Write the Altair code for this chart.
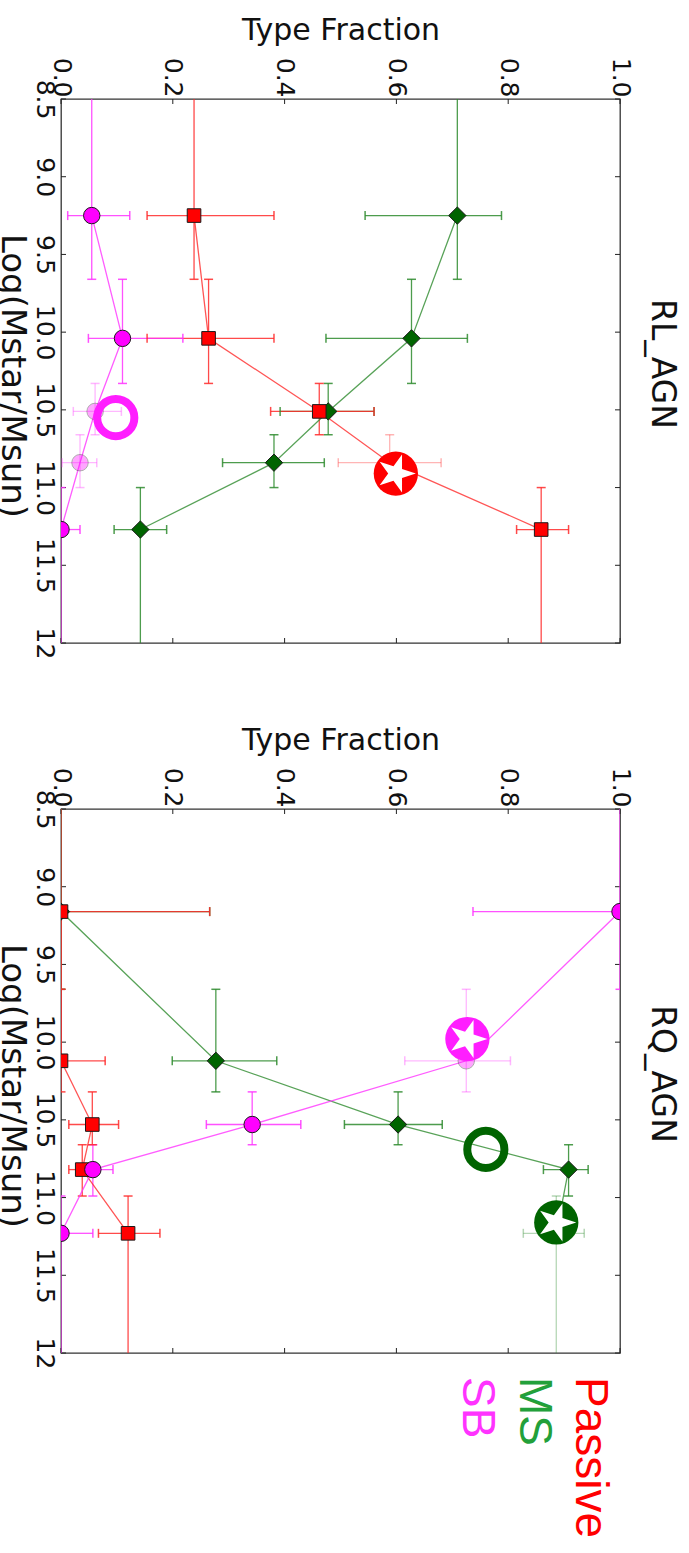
import altair as alt
import pandas as pd

# Axis tick positions
FRAC_TICKS = [0.0, 0.2, 0.4, 0.6, 0.8, 1.0]
MASS_TICKS = [8.5, 9.0, 9.5, 10.0, 10.5, 11.0, 11.5, 12.0]

SERIES = ["MS", "Passive", "SB"]          # drawing order, SB on top
LEGEND_LABELS = ["Passive", "MS", "SB"]

# ---------------- RL_AGN ----------------
# stellar-mass bins: centre and lower / upper bin edge
rl_mass = [9.25, 10.04, 10.51, 10.84, 11.27]
rl_mass_lo = [8.0, 9.66, 10.33, 10.66, 11.00]
rl_mass_hi = [9.66, 10.33, 10.66, 11.00, 13.0]

rl_passive = [0.238, 0.264, 0.462, 0.588, 0.859]
rl_passive_lo = [0.154, 0.154, 0.375, 0.496, 0.815]
rl_passive_hi = [0.381, 0.381, 0.560, 0.680, 0.908]

rl_ms = [0.709, 0.627, 0.478, 0.381, 0.142]
rl_ms_lo = [0.544, 0.474, 0.392, 0.289, 0.095]
rl_ms_hi = [0.788, 0.727, 0.560, 0.471, 0.189]

rl_sb = [0.055, 0.110, 0.061, 0.034, 0.0]
rl_sb_lo = [0.012, 0.049, 0.022, 0.002, 0.0]
rl_sb_hi = [0.123, 0.218, 0.108, 0.064, 0.034]

rl_ring_series = ["SB"]
rl_ring_frac = [0.098]
rl_ring_mass = [10.55]
rl_star_series = ["Passive"]
rl_star_frac = [0.599]
rl_star_mass = [10.91]

# ---------------- RQ_AGN ----------------
rq_mass = [9.16, 10.12, 10.53, 10.82, 11.23]
rq_mass_lo = [8.0, 9.66, 10.32, 10.66, 10.99]
rq_mass_hi = [9.66, 10.32, 10.66, 10.99, 13.0]

rq_passive = [0.0, 0.0, 0.056, 0.038, 0.120]
rq_passive_lo = [0.0, 0.0, 0.014, 0.014, 0.067]
rq_passive_hi = [0.266, 0.079, 0.103, 0.057, 0.177]

rq_ms = [0.0, 0.277, 0.603, 0.908, 0.886]
rq_ms_lo = [0.0, 0.199, 0.507, 0.863, 0.827]
rq_ms_hi = [0.266, 0.386, 0.682, 0.943, 0.936]

rq_sb = [1.0, 0.725, 0.342, 0.057, 0.0]
rq_sb_lo = [0.737, 0.615, 0.260, 0.030, 0.0]
rq_sb_hi = [1.0, 0.804, 0.429, 0.093, 0.057]

rq_ring_series = ["MS"]
rq_ring_frac = [0.760]
rq_ring_mass = [10.69]
rq_star_series = ["SB", "MS"]
rq_star_frac = [0.727, 0.886]
rq_star_mass = [9.98, 11.16]

# ---------------- styling ----------------
LINE_COLORS = {"MS": "#2e8b2e", "Passive": "#ff2a2a", "SB": "#ff33ff"}
FILL_COLORS = {"MS": "#006400", "Passive": "#ff0000", "SB": "#ff00ff"}
MARK_COLORS = {"MS": "#006400", "Passive": "#ff0000", "SB": "#ff1eff"}
LEGEND_COLORS = {"Passive": "#ff0000", "MS": "#22a03a", "SB": "#ff33ff"}
SHAPES = {"MS": "diamond", "Passive": "square", "SB": "circle"}
SIZES = {"MS": 300, "Passive": 185, "SB": 270}
# five-pointed star in the unit box, used for the highlighted sources
STAR_PATH = (
    "M0,-1L0.2245,-0.309L0.951,-0.309L0.363,0.118L0.588,0.809L0,0.382"
    "L-0.588,0.809L-0.363,0.118L-0.951,-0.309L-0.2245,-0.309Z"
)
# points drawn washed out (series, bin index)
FADED = {
    "RL_AGN": {("SB", 2), ("SB", 3), ("Passive", 3)},
    "RQ_AGN": {("SB", 1), ("MS", 4)},
}

FONT = "DejaVu Sans"
PLOT_W, PLOT_H = 559, 544
TICK_LEN = 5

panels = {
    "RL_AGN": dict(
        mass=rl_mass, mass_lo=rl_mass_lo, mass_hi=rl_mass_hi,
        MS=(rl_ms, rl_ms_lo, rl_ms_hi),
        Passive=(rl_passive, rl_passive_lo, rl_passive_hi),
        SB=(rl_sb, rl_sb_lo, rl_sb_hi),
        rings=(rl_ring_series, rl_ring_frac, rl_ring_mass),
        stars=(rl_star_series, rl_star_frac, rl_star_mass),
    ),
    "RQ_AGN": dict(
        mass=rq_mass, mass_lo=rq_mass_lo, mass_hi=rq_mass_hi,
        MS=(rq_ms, rq_ms_lo, rq_ms_hi),
        Passive=(rq_passive, rq_passive_lo, rq_passive_hi),
        SB=(rq_sb, rq_sb_lo, rq_sb_hi),
        rings=(rq_ring_series, rq_ring_frac, rq_ring_mass),
        stars=(rq_star_series, rq_star_frac, rq_star_mass),
    ),
}

x_scale = alt.Scale(domain=[0, 1], nice=False, zero=False)
y_scale = alt.Scale(domain=[8.5, 12], nice=False, zero=False, reverse=True)

x_axis = alt.Axis(
    orient="top", values=FRAC_TICKS, format=".1f", title="Type Fraction",
    labelAngle=90, labelAlign="right", labelBaseline="middle",
    labelFont=FONT, labelFontSize=25, labelColor="#111", labelPadding=2,
    ticks=False, domain=False, grid=False,
    titleFont=FONT, titleFontSize=30, titleFontWeight="normal",
    titleColor="#111", titlePadding=12,
)
y_axis = alt.Axis(
    orient="left", values=MASS_TICKS,
    labelExpr="datum.value == 12 ? '12' : format(datum.value, '.1f')",
    labelAngle=90, labelAlign="center", labelBaseline="top",
    labelFont=FONT, labelFontSize=25, labelColor="#111", labelPadding=5,
    ticks=False, domain=False, grid=False, title=None,
)

line_color = alt.Color(
    "series:N",
    scale=alt.Scale(domain=SERIES, range=[LINE_COLORS[s] for s in SERIES]),
    legend=None,
)
mark_color_scale = alt.Scale(domain=SERIES, range=[MARK_COLORS[s] for s in SERIES])


def panel(name, with_legend):
    p = panels[name]
    rows = []
    for s in SERIES:
        vals, lo, hi = p[s]
        for i, m in enumerate(p["mass"]):
            faded = (s, i) in FADED[name]
            rows.append(dict(
                series=s, mass=m, mlo=p["mass_lo"][i], mhi=p["mass_hi"][i],
                frac=vals[i], flo=lo[i], fhi=hi[i],
                alpha=0.35 if faded else 1.0,
                ealpha=0.35 if faded else 0.85,
            ))
    df = pd.DataFrame(rows)

    ring_s, ring_f, ring_m = p["rings"]
    rings = pd.DataFrame({"series": ring_s, "frac": ring_f, "mass": ring_m})
    star_s, star_f, star_m = p["stars"]
    stars = pd.DataFrame({"series": star_s, "frac": star_f, "mass": star_m})

    X = alt.X("frac:Q", scale=x_scale, axis=x_axis)
    Y = alt.Y("mass:Q", scale=y_scale, axis=y_axis)
    base = alt.Chart(df)
    ealpha = alt.Opacity("ealpha:Q", scale=None)

    # inward tick marks on all four sides of the frame
    fticks = alt.Chart(pd.DataFrame({"frac": FRAC_TICKS}))
    mticks = alt.Chart(pd.DataFrame({"mass": MASS_TICKS}))
    tick_top = fticks.mark_rule(color="#222", strokeWidth=1).encode(
        x=X, y=alt.value(0), y2=alt.value(TICK_LEN))
    tick_bottom = fticks.mark_rule(color="#222", strokeWidth=1).encode(
        x=X, y=alt.value(PLOT_H - TICK_LEN), y2=alt.value(PLOT_H))
    tick_left = mticks.mark_rule(color="#222", strokeWidth=1).encode(
        y=Y, x=alt.value(0), x2=alt.value(TICK_LEN))
    tick_right = mticks.mark_rule(color="#222", strokeWidth=1).encode(
        y=Y, x=alt.value(PLOT_W - TICK_LEN), x2=alt.value(PLOT_W))

    # bin-width (vertical) bars and their caps
    vbar = base.mark_rule(strokeWidth=1.3, clip=True).encode(
        x=X, y=alt.Y("mlo:Q", scale=y_scale, axis=y_axis), y2="mhi:Q",
        color=line_color, opacity=ealpha)
    vcap_lo = base.mark_point(shape="stroke", size=81, strokeWidth=1.5, clip=True).encode(
        x=X, y=alt.Y("mlo:Q", scale=y_scale, axis=y_axis),
        color=line_color, opacity=ealpha)
    vcap_hi = base.mark_point(shape="stroke", size=81, strokeWidth=1.5, clip=True).encode(
        x=X, y=alt.Y("mhi:Q", scale=y_scale, axis=y_axis),
        color=line_color, opacity=ealpha)
    # fraction error bars and caps
    hbar = base.mark_rule(strokeWidth=1.3, clip=True).encode(
        x=alt.X("flo:Q", scale=x_scale, axis=x_axis), x2="fhi:Q", y=Y,
        color=line_color, opacity=ealpha)
    hcap_lo = base.mark_point(shape="stroke", size=81, angle=90, strokeWidth=1.5, clip=True).encode(
        x=alt.X("flo:Q", scale=x_scale, axis=x_axis), y=Y,
        color=line_color, opacity=ealpha)
    hcap_hi = base.mark_point(shape="stroke", size=81, angle=90, strokeWidth=1.5, clip=True).encode(
        x=alt.X("fhi:Q", scale=x_scale, axis=x_axis), y=Y,
        color=line_color, opacity=ealpha)

    lines = base.mark_line(strokeWidth=1.3, clip=True).encode(
        x=X, y=Y, color=line_color, detail="series:N",
        order=alt.Order("mass:Q"), opacity=alt.value(0.8))

    markers = [
        base.transform_filter(alt.datum.series == s).mark_point(
            shape=SHAPES[s], filled=True, size=SIZES[s], fill=FILL_COLORS[s],
            stroke="#1a1a1a", strokeWidth=1, clip=True,
        ).encode(x=X, y=Y, opacity=alt.Opacity("alpha:Q", scale=None))
        for s in SERIES
    ]

    ring_layer = alt.Chart(rings).mark_point(
        shape="circle", filled=False, size=1380, strokeWidth=8, opacity=1,
    ).encode(x=X, y=Y, stroke=alt.Stroke("series:N", scale=mark_color_scale, legend=None))
    star_disc = alt.Chart(stars).mark_point(
        shape="circle", filled=True, size=1960, opacity=1,
    ).encode(x=X, y=Y, fill=alt.Fill("series:N", scale=mark_color_scale, legend=None))
    star_glyph = alt.Chart(stars).mark_point(
        shape=STAR_PATH, filled=True, fill="white", size=1600, angle=90, opacity=1,
    ).encode(x=X, y=Y)

    # rotated panel name on the right and mass-axis title on the left
    name_df = pd.DataFrame({"t": [name]})
    panel_name = alt.Chart(name_df).mark_text(
        angle=90, align="center", baseline="middle", font=FONT, fontSize=33,
        color="#111",
    ).encode(text="t:N", x=alt.value(PLOT_W + 42), y=alt.value(PLOT_H / 2 - 7))
    ytitle_df = pd.DataFrame({"t": ["Log(Mstar/Msun)"]})
    y_title = alt.Chart(ytitle_df).mark_text(
        angle=90, align="center", baseline="middle", font=FONT, fontSize=34,
        color="#111",
    ).encode(text="t:N", x=alt.value(-49), y=alt.value(PLOT_H / 2 + 5))

    layers = [
        tick_top, tick_bottom, tick_left, tick_right,
        vbar, vcap_lo, vcap_hi, hbar, hcap_lo, hcap_hi, lines, *markers,
        ring_layer, star_disc, star_glyph, panel_name, y_title,
    ]
    if with_legend:
        legend_x = {"Passive": 529, "MS": 473, "SB": 416}
        for lab in LEGEND_LABELS:
            layers.append(
                alt.Chart(pd.DataFrame({"t": [lab]})).mark_text(
                    angle=90, align="left", baseline="middle",
                    font="Liberation Sans", fontSize=46, color=LEGEND_COLORS[lab],
                ).encode(text="t:N", x=alt.value(legend_x[lab]), y=alt.value(PLOT_H + 24))
            )
    return alt.layer(*layers).properties(width=PLOT_W, height=PLOT_H)


chart = alt.vconcat(
    panel("RL_AGN", False), panel("RQ_AGN", True), spacing=64
).properties(
    padding={"left": -6, "top": 14, "right": 0, "bottom": 0},
).configure_view(stroke="#333", strokeWidth=1.3)

chart.save("out.html", embed_options={"renderer": "svg", "actions": False})
